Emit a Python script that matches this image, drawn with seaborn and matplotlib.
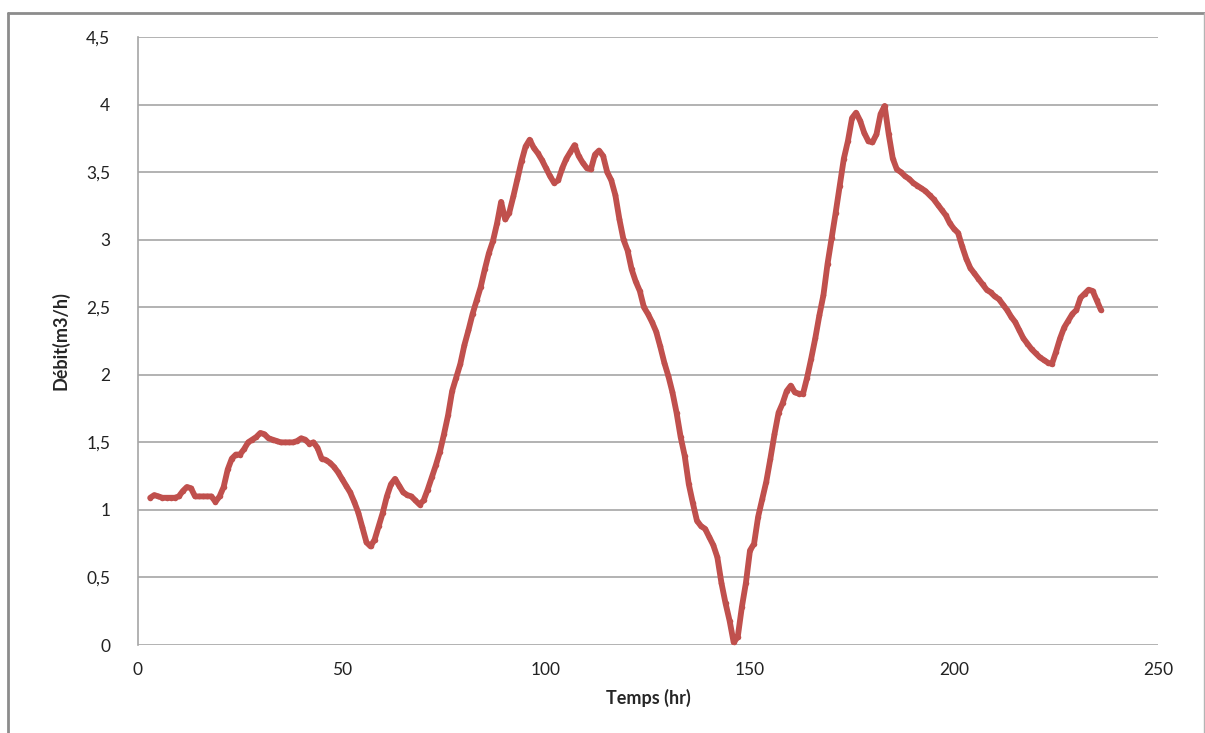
import matplotlib

matplotlib.use("Agg")

import matplotlib.pyplot as plt
import pandas as pd
import seaborn as sns
from matplotlib.lines import Line2D
from matplotlib.ticker import FuncFormatter, MultipleLocator

# hourly readings, t = 3 .. 236 hr
hours = list(range(3, 237))
debit = [
    1.09, 1.11, 1.10, 1.09, 1.09, 1.09, 1.09,                      # 3-9
    1.10, 1.14, 1.17, 1.16, 1.10, 1.10, 1.10, 1.10, 1.10, 1.06,    # 10-19
    1.10, 1.17, 1.30, 1.38, 1.41, 1.41, 1.45, 1.50, 1.52, 1.54,    # 20-29
    1.57, 1.56, 1.53, 1.52, 1.51, 1.50, 1.50, 1.50, 1.50, 1.51,    # 30-39
    1.53, 1.52, 1.49, 1.50, 1.46, 1.38, 1.37, 1.35, 1.32, 1.28,    # 40-49
    1.23, 1.18, 1.13, 1.06, 0.98, 0.87, 0.76, 0.73, 0.78, 0.88,    # 50-59
    0.98, 1.10, 1.19, 1.23, 1.18, 1.13, 1.11, 1.10, 1.07, 1.04,    # 60-69
    1.07, 1.15, 1.24, 1.33, 1.43, 1.56, 1.70, 1.88, 1.98, 2.08,    # 70-79
    2.22, 2.33, 2.45, 2.55, 2.65, 2.78, 2.90, 2.99, 3.12, 3.28,    # 80-89
    3.15, 3.20, 3.32, 3.45, 3.58, 3.69, 3.74, 3.68, 3.64, 3.59,    # 90-99
    3.53, 3.47, 3.42, 3.44, 3.53, 3.60, 3.65, 3.70, 3.62, 3.57,    # 100-109
    3.53, 3.52, 3.63, 3.66, 3.62, 3.50, 3.44, 3.33, 3.15, 3.00,    # 110-119
    2.92, 2.78, 2.69, 2.62, 2.50, 2.45, 2.39, 2.32, 2.21, 2.09,    # 120-129
    1.99, 1.87, 1.72, 1.54, 1.40, 1.19, 1.05, 0.92, 0.88, 0.86,    # 130-139
    0.80, 0.74, 0.65, 0.46, 0.31, 0.18, 0.02, 0.06, 0.28, 0.46,    # 140-149
    0.70, 0.75, 0.95, 1.08, 1.21, 1.38, 1.56, 1.72, 1.79, 1.88,    # 150-159
    1.92, 1.87, 1.86, 1.86, 1.98, 2.12, 2.27, 2.44, 2.59, 2.82,    # 160-169
    3.01, 3.20, 3.40, 3.60, 3.73, 3.90, 3.94, 3.88, 3.79, 3.73,    # 170-179
    3.72, 3.78, 3.93, 3.99, 3.78, 3.60, 3.52, 3.50, 3.47, 3.45,    # 180-189
    3.42, 3.40, 3.38, 3.36, 3.33, 3.30, 3.26, 3.22, 3.18, 3.12,    # 190-199
    3.08, 3.05, 2.95, 2.86, 2.79, 2.75, 2.71, 2.67, 2.63, 2.61,    # 200-209
    2.58, 2.56, 2.52, 2.48, 2.43, 2.39, 2.33, 2.27, 2.23, 2.19,    # 210-219
    2.16, 2.13, 2.11, 2.09, 2.08, 2.17, 2.27, 2.35, 2.40, 2.45,    # 220-229
    2.48, 2.57, 2.60, 2.63, 2.62, 2.55, 2.48,                      # 230-236
]

x_ticks = [0, 50, 100, 150, 200, 250]
LINE_COLOR = "#C0504D"
GRID_COLOR = "#A6A6A6"


def comma(v, _pos):
    return f"{v:g}".replace(".", ",")


def main() -> None:
    sns.set_theme(style="white")
    plt.rcParams["font.family"] = ["Lato", "DejaVu Sans"]

    df = pd.DataFrame({"Temps": hours, "Debit": debit})

    fig = plt.figure(figsize=(12.05, 7.33), dpi=100)
    ax = fig.add_axes([0.1145, 0.12, 0.8465, 0.8295])

    sns.lineplot(
        data=df,
        x="Temps",
        y="Debit",
        color=LINE_COLOR,
        linewidth=4.2,
        marker="o",
        markersize=4,
        markeredgewidth=0,
        ax=ax,
    )

    ax.set_xlim(0, 250)
    ax.set_ylim(0, 4.5)
    ax.set_xticks(x_ticks)
    ax.yaxis.set_major_locator(MultipleLocator(0.5))
    ax.yaxis.set_major_formatter(FuncFormatter(comma))
    ax.xaxis.set_major_formatter(FuncFormatter(comma))

    ax.grid(axis="y", color=GRID_COLOR, linewidth=1.2)
    ax.grid(axis="x", visible=False)
    ax.set_axisbelow(True)
    for side in ("top", "right", "bottom"):
        ax.spines[side].set_visible(False)
    ax.spines["left"].set_color(GRID_COLOR)
    ax.spines["left"].set_linewidth(1.2)

    ax.tick_params(axis="both", length=0, labelsize=12.5, colors="#222222")
    ax.tick_params(axis="y", pad=20)
    ax.tick_params(axis="x", pad=12)

    ax.set_xlabel("Temps (hr)", fontsize=13, fontweight="bold", labelpad=8)
    ax.set_ylabel("Débit(m3/h)", fontsize=13, fontweight="bold", labelpad=12)

    # outer chart frame: top and left darker, right thin, open at the bottom
    W, H = 1205.0, 733.0
    top_y = 1 - 12.5 / H
    left_x = 8 / W
    fig.lines.append(Line2D([left_x, 1.0], [top_y, top_y], transform=fig.transFigure,
                            color="#8C8C8C", linewidth=2))
    fig.lines.append(Line2D([left_x, left_x], [0.0, top_y], transform=fig.transFigure,
                            color="#8C8C8C", linewidth=2))
    fig.lines.append(Line2D([1203.5 / W, 1203.5 / W], [0.0, top_y], transform=fig.transFigure,
                            color="#B4B4B4", linewidth=1))

    fig.savefig("out.png", dpi=100, facecolor="white")
    plt.close(fig)


if __name__ == "__main__":
    main()
